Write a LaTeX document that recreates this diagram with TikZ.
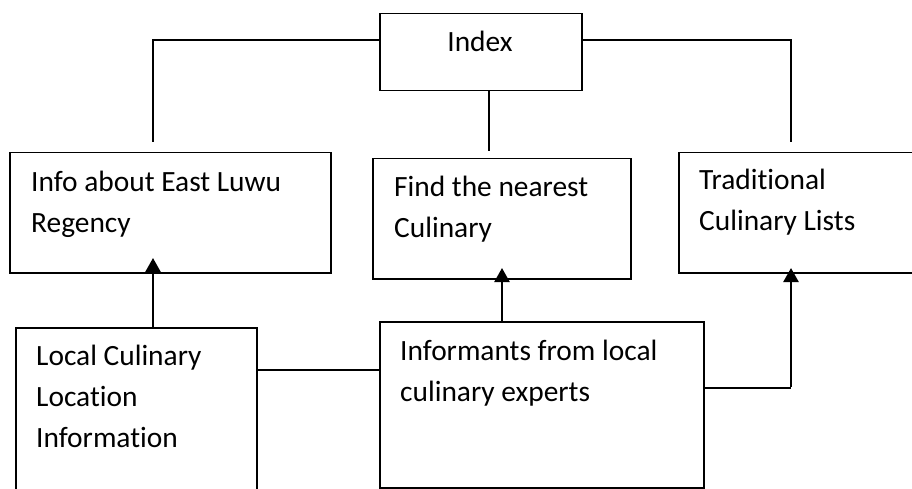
\documentclass[tikz,border=0pt]{standalone}
\usepackage{fontspec}
\setmainfont{Carlito}[Ligatures=NoCommon]
\usetikzlibrary{arrows.meta,calc}
\begin{document}
\begin{tikzpicture}[x=1pt,y=1pt,
  boxnode/.style={draw=black, line width=1.5pt, rectangle, inner sep=0pt, anchor=north west},
  txt/.style={anchor=base west, align=left, inner sep=0pt, font=\fontsize{29.4}{41}\selectfont},
  conn/.style={draw=black, line width=1.3pt},
  arr/.style={draw=black, line width=2.4pt, -{Triangle[width=15pt,length=14pt]}}]
\clip (0,0) rectangle (912,-489);
\path[use as bounding box] (0,0) rectangle (912,-489);
% boxes
\node[boxnode, minimum width=202pt, minimum height=77pt] (idx) at (379,-13) {};
\node[boxnode, minimum width=321pt, minimum height=120pt] (info) at (9,-152) {};
\node[boxnode, minimum width=258pt, minimum height=120pt] (find) at (372,-158) {};
\node[boxnode, minimum width=260pt, minimum height=120pt] (trad) at (678,-152) {};
\node[boxnode, minimum width=241pt, minimum height=190pt] (local) at (15,-327) {};
\node[boxnode, minimum width=324pt, minimum height=166pt] (inf) at (379,-321) {};
% texts (anchored at the baseline of their last line)
\node[txt, anchor=base] (tidx) at (480,-52) {Index};
\node[txt] (tinfo) at (31,-232) {Info about East Luwu\\Regency};
\node[txt] (tfind) at (394,-237) {Find the nearest\\Culinary};
\node[txt] (ttrad) at (699,-230) {Traditional\\Culinary Lists};
\node[txt] (tlocal) at (36,-447) {Local Culinary\\Location\\Information};
\node[txt] (tinf) at (400,-401) {Informants from local\\culinary experts};
% free ends
\coordinate (lend) at (153,-142);
\coordinate (mend) at (489,-151);
\coordinate (rend) at (791,-142);
\coordinate (ltip) at (153,-258);
\coordinate (ftip) at (502,-268);
\coordinate (rtip) at (791,-268);
% connectors
\draw[conn] (idx.north west |- 0,-40) -| (lend);
\draw[conn] (idx.north east |- 0,-40) -| (rend);
\draw[conn] (idx.south -| mend) -- (mend);
\draw[conn] (local.north east |- 0,-370) -- (inf.north west |- 0,-370);
\draw[arr] (local.north -| ltip) -- (ltip);
\draw[arr] (inf.north -| ftip) -- (ftip);
\draw[conn] (inf.north east |- 0,-388) -- (rtip |- 0,-388);
\draw[arr] ($(rtip |- 0,-388)+(0,0.65)$) -- (rtip);
\end{tikzpicture}
\end{document}
